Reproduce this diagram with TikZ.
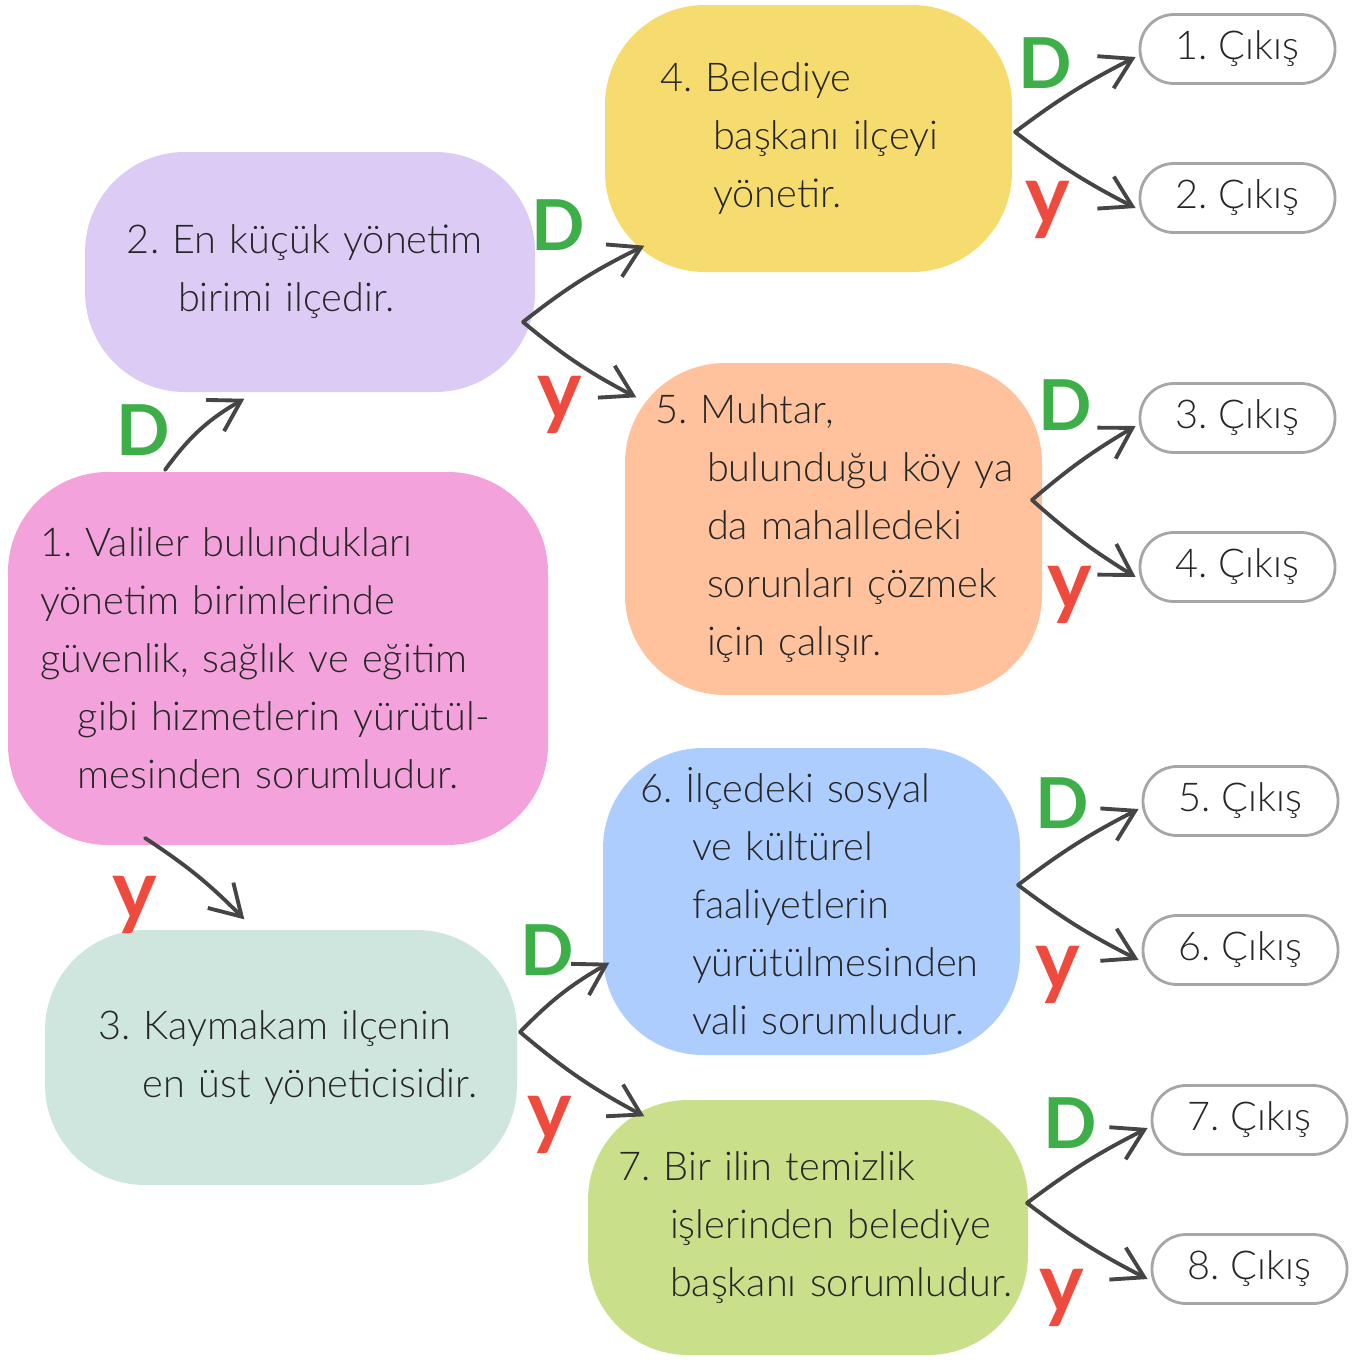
\documentclass[tikz,border=0pt]{standalone}
\usepackage{fontspec}
\IfFontExistsTF{Lato Light}{\setmainfont{Lato Light}[BoldFont=Lato Bold]}{\setmainfont{Lato}}
\usetikzlibrary{calc,arrows.meta}

\definecolor{lila}{HTML}{DCCBF4}
\definecolor{sari}{HTML}{F6DC6E}
\definecolor{seftali}{HTML}{FFC29C}
\definecolor{pembe}{HTML}{F4A2DC}
\definecolor{mavi}{HTML}{ADCDFE}
\definecolor{nane}{HTML}{CFE6DF}
\definecolor{cimen}{HTML}{C9DF8A}
\definecolor{okgri}{HTML}{454545}
\definecolor{yesil}{HTML}{3DAE48}
\definecolor{kirmizi}{HTML}{EE4B3E}

\begin{document}
\frenchspacing
\begin{tikzpicture}[
	blob/.style={rectangle,rounded corners=1cm,inner xsep=0pt,inner ysep=0pt,align=left,text=black!85,font=\fontsize{11.3}{16.5}\selectfont},
	cikis/.style={rectangle,rounded corners=0.34cm,draw=gray!70,fill=white,line width=0.8pt,minimum width=1.95cm,minimum height=0.69cm,text=black!85,font=\fontsize{11.3}{13}\selectfont},
	ok/.style={-{Straight Barb[length=3mm,width=3.6mm]},line width=1.1pt,draw=okgri,line cap=round},
	dogru/.style={text=yesil,font=\fontsize{20}{20}\selectfont\bfseries},
	yanlis/.style={text=kirmizi,font=\fontsize{24}{24}\selectfont\bfseries}
]
\useasboundingbox (0,0) rectangle (13.62,-13.59);

%question boxes
\node[blob,fill=pembe,text width=5.4cm,minimum height=3.73cm](b1) at (2.78,-6.585){%
\hspace*{.32cm}1. Valiler bulundukları\\
\hspace*{.32cm}yönetim birimlerinde\\
\hspace*{.32cm}güvenlik, sağlık ve eğitim\\
\hspace*{.70cm}gibi hizmetlerin yürütül-\\
\hspace*{.70cm}mesinden sorumludur.};
\node[blob,fill=lila,text width=4.5cm,minimum height=2.4cm](b2) at (3.10,-2.72){%
\hspace*{.42cm}2. En küçük yönetim\\
\hspace*{.93cm}birimi ilçedir.};
\node[blob,fill=nane,text width=4.72cm,minimum height=2.55cm](b3) at (2.81,-10.575){%
\hspace*{.53cm}3. Kaymakam ilçenin\\
\hspace*{.98cm}en üst yöneticisidir.};
\node[blob,fill=sari,text width=4.07cm,minimum height=2.67cm](b4) at (8.085,-1.385){%
\hspace*{.55cm}4. Belediye\\
\hspace*{1.08cm}başkanı ilçeyi\\
\hspace*{1.08cm}yönetir.};
\node[blob,fill=seftali,text width=4.17cm,minimum height=3.32cm](b5) at (8.335,-5.29){%
\hspace*{.30cm}5. Muhtar,\\
\hspace*{.82cm}bulunduğu köy ya\\
\hspace*{.82cm}da mahalledeki\\
\hspace*{.82cm}sorunları çözmek\\
\hspace*{.82cm}için çalışır.};
\node[blob,fill=mavi,text width=4.17cm,minimum height=3.07cm](b6) at (8.115,-9.015){%
\hspace*{.37cm}6. İlçedeki sosyal\\
\hspace*{.89cm}ve kültürel\\
\hspace*{.89cm}faaliyetlerin\\
\hspace*{.89cm}yürütülmesinden\\
\hspace*{.89cm}vali sorumludur.};
\node[blob,fill=cimen,text width=4.4cm,minimum height=2.55cm](b7) at (8.08,-12.275){%
\hspace*{.30cm}7. Bir ilin temizlik\\
\hspace*{.82cm}işlerinden belediye\\
\hspace*{.82cm}başkanı sorumludur.};

%exits
\foreach \n/\x/\y in {1/12.375/-0.49, 2/12.375/-1.98, 3/12.375/-4.18, 4/12.375/-5.67, 5/12.405/-8.01, 6/12.405/-9.50, 7/12.495/-11.20, 8/12.495/-12.69}
{
	\node[cikis](p\n) at (\x,\y){\n. Çıkış};
}

%fork points
\coordinate (s1a) at (1.65,-4.70);
\coordinate (s1b) at (1.45,-8.38);
\coordinate (s2) at (5.23,-3.22);
\coordinate (s3) at (5.20,-10.32);
\coordinate (s4) at (10.15,-1.32);
\coordinate (s5) at (10.32,-5.00);
\coordinate (s6) at (10.18,-8.85);
\coordinate (s7) at (10.27,-12.03);

%draw arrows
\draw[ok](s1a) to[bend left=12] ($(b2.south west)+(1.6,-0.06)$);
\draw[ok](s1b) to[bend left=6] ($(b3.north west)+(2.0,0.1)$);
\draw[ok](s2) to[bend left=6] ($(b4.south west)+(0.4,0.27)$);
\draw[ok](s2) to[bend right=6] ($(b5.north west)+(0.12,-0.35)$);
\draw[ok](s3) to[bend left=8] ($(b6.south west)+(0.07,0.93)$);
\draw[ok](s3) to[bend right=6] ($(b7.north west)+(0.57,-0.17)$);
\foreach \s/\a/\b in {s4/p1/p2, s5/p3/p4, s6/p5/p6, s7/p7/p8}
{
	\draw[ok](\s) to[bend left=5] ($(\a.west)+(-0.03,-0.08)$);
	\draw[ok](\s) to[bend right=5] ($(\b.west)+(-0.03,-0.1)$);
}

%add answer marks
\foreach \k/\x/\y in {1/1.43/-4.30, 2/5.58/-2.25, 3/5.47/-9.50, 4/10.45/-0.63, 5/10.65/-4.05, 6/10.62/-8.03, 7/10.70/-11.23}
{
	\node[dogru](d\k) at (\x,\y){D};
}
\foreach \k/\x/\y in {1/1.35/-9.05, 2/5.60/-4.05, 3/5.50/-11.25, 4/10.48/-2.10, 5/10.70/-5.95, 6/10.58/-9.75, 7/10.62/-12.98}
{
	\node[yanlis](y\k) at (\x,\y){y};
}
\end{tikzpicture}
\end{document}
